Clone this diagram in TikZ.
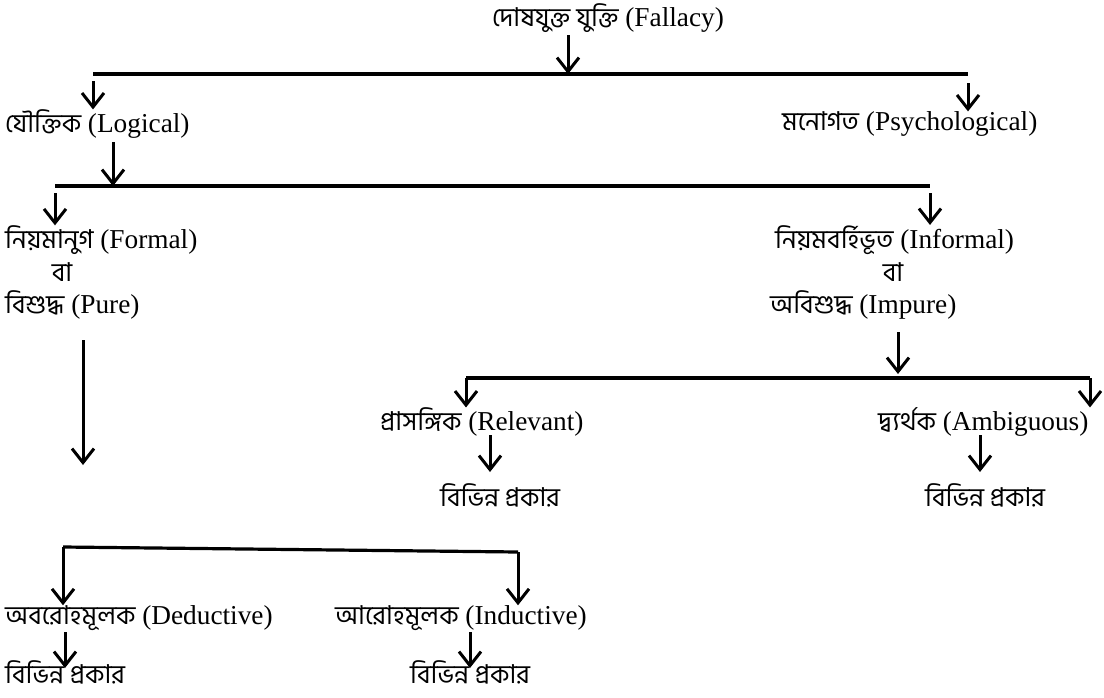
\documentclass[tikz,border=0pt]{standalone}
\usepackage{fontspec}
\setmainfont{Liberation Serif}[Scale=1.05]
\newfontfamily\bn[Script=Bengali]{Hind Siliguri}
\usetikzlibrary{arrows.meta}
\tikzset{
	txt/.style={anchor=west, inner sep=0pt, font=\fontsize{26}{30}\selectfont},
	arr/.style={line width=3pt, -{Straight Barb[length=14pt,width=22pt]}},
	bar/.style={line width=3.2pt},
}

\begin{document}
\begin{tikzpicture}[x=1pt,y=-1pt]
	\useasboundingbox (0,0) rectangle (1104,697);
	% texts
	\node[txt] (fallacy) at (492,18) {{\bn দোষযুক্ত যুক্তি} (Fallacy)};
	\node[txt] (logical) at (5,124) {{\bn যৌক্তিক} (Logical)};
	\node[txt] (psych) at (782,124) {{\bn মনোগত} (Psychological)};
	\node[txt] (formal) at (5,240) {{\bn নিয়মানুগ} (Formal)};
	\node[txt, anchor=center] (ba1) at (62,272) {\bn বা};
	\node[txt] (pure) at (5,305) {{\bn বিশুদ্ধ} (Pure)};
	\node[txt] (informal) at (775,240) {{\bn নিয়মবর্হিভূত} (Informal)};
	\node[txt, anchor=center] (ba2) at (893,272) {\bn বা};
	\node[txt] (impure) at (770,305) {{\bn অবিশুদ্ধ} (Impure)};
	\node[txt] (relevant) at (380,422) {{\bn প্রাসঙ্গিক} (Relevant)};
	\node[txt] (ambig) at (878,422) {{\bn দ্ব্যর্থক} (Ambiguous)};
	\node[txt] (var1) at (440,495) {\bn বিভিন্ন প্রকার};
	\node[txt] (var2) at (925,495) {\bn বিভিন্ন প্রকার};
	\node[txt] (deduct) at (5,618) {{\bn অবরোহমূলক} (Deductive)};
	\node[txt] (induct) at (335,618) {{\bn আরোহমূলক} (Inductive)};
	\node[txt] (var3) at (5,672) {\bn বিভিন্ন প্রকার};
	\node[txt] (var4) at (410,672) {\bn বিভিন্ন প্রকার};

	% branch lines
	\coordinate (a1) at (93,74);
	\coordinate (a2) at (968,74);
	\coordinate (b1) at (55,186);
	\coordinate (b2) at (930,186);
	\coordinate (c1) at (466,378);
	\coordinate (c2) at (1090,378);
	\coordinate (d1) at (63,547);
	\coordinate (d2) at (518,552);
	\coordinate (p) at (83,465);
	\draw[bar] (a1) -- (a2);
	\draw[bar] (b1) -- (b2);
	\draw[bar] (c1) -- (c2);
	\draw[bar] (d1) -- (d2);

	% arrows
	\draw[arr] (568,35) -- (568,74);
	\draw[arr] ([yshift=-7pt]a1) -- (a1 |- logical.north);
	\draw[arr] ([yshift=-9pt]a2) -- (a2 |- psych.north);
	\draw[arr] (113,142) -- (113,186);
	\draw[arr] ([yshift=-7pt]b1) -- (b1 |- formal.north);
	\draw[arr] ([yshift=-7pt]b2) -- (b2 |- informal.north);
	\draw[arr] (898,332) -- (898,374);
	\draw[arr] (c1) -- (c1 |- relevant.north);
	\draw[arr] (c2) -- (c2 |- ambig.north);
	\draw[arr] (490,435) -- (490,472);
	\draw[arr] (980,435) -- (980,472);
	\draw[arr] (83,340) -- (p);
	\draw[arr] (d1) -- (d1 |- deduct.north);
	\draw[arr] (d2) -- (d2 |- induct.north);
	\draw[arr] (65,632) -- (65,668);
	\draw[arr] (470,632) -- (470,668);
\end{tikzpicture}
\end{document}
